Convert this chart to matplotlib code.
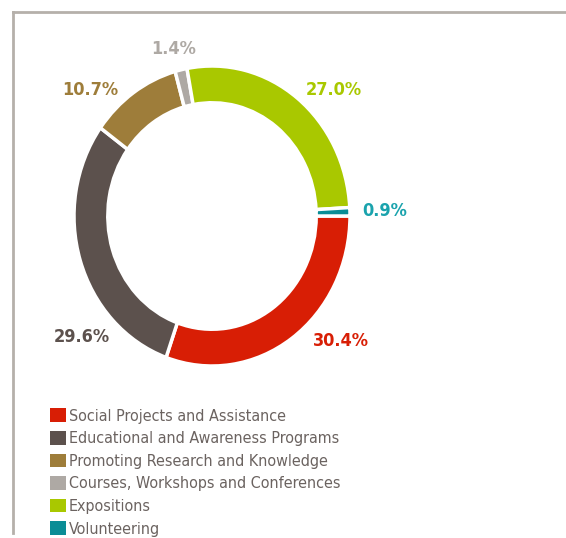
import matplotlib.pyplot as plt
from matplotlib.patches import Patch
from matplotlib.lines import Line2D

categories = ["Social Projects and Assistance", "Educational and Awareness Programs",
              "Promoting Research and Knowledge", "Courses, Workshops and Conferences",
              "Expositions", "Volunteering"]
shares = [30.4, 29.6, 10.7, 1.4, 27.0, 0.9]
colors = ["#d81e05", "#5c514d", "#9e7d3a", "#aea9a4", "#a9c800", "#0a8d96"]
label_colors = ["#d81e05", "#5c514d", "#9e7d3a", "#aea9a4", "#a9c800", "#1aa3ad"]
# where each percentage label sits (data units around the ring)
label_pos = [(0.935, -0.83), (-0.94, -0.81), (-0.88, 0.84), (-0.28, 1.11), (0.88, 0.84), (1.25, 0.03)]

fig = plt.figure(figsize=(5.66, 5.38), dpi=100)
ax = fig.add_axes([5 / 566, 112 / 538, 414 / 566, 420 / 538])

ax.pie(shares, colors=colors, startangle=0, counterclock=False, radius=1,
       wedgeprops=dict(width=0.245, edgecolor="white", linewidth=2.5))
ax.set_aspect("auto")
ax.set_xlim(-1.5, 1.5)
ax.set_ylim(-1.4, 1.4)

for v, c, (x, y) in zip(shares, label_colors, label_pos):
    ax.text(x, y, f"{v:.1f}%", color=c, fontsize=13, fontweight="bold",
            fontstretch="condensed", ha="center", va="center")

# gray frame lines on top and left
fig.add_artist(Line2D([13 / 566, 1], [1 - 12 / 538] * 2, color="#b5b0aa", lw=2))
fig.add_artist(Line2D([13 / 566] * 2, [1 - 12 / 538, 5 / 538], color="#b5b0aa", lw=2))

handles = [Patch(facecolor=c, edgecolor="none") for c in colors]
leg = fig.legend(handles, categories, loc="upper left", bbox_to_anchor=(44 / 566, 1 - 402 / 538),
                 frameon=False, handlelength=0.95, handleheight=0.95, handletextpad=0.2,
                 labelspacing=0.45, fontsize=11.5, borderaxespad=0)
for t in leg.get_texts():
    t.set_color("#6b6360")
    t.set_fontstretch("condensed")

fig.savefig("out.png", dpi=100)
